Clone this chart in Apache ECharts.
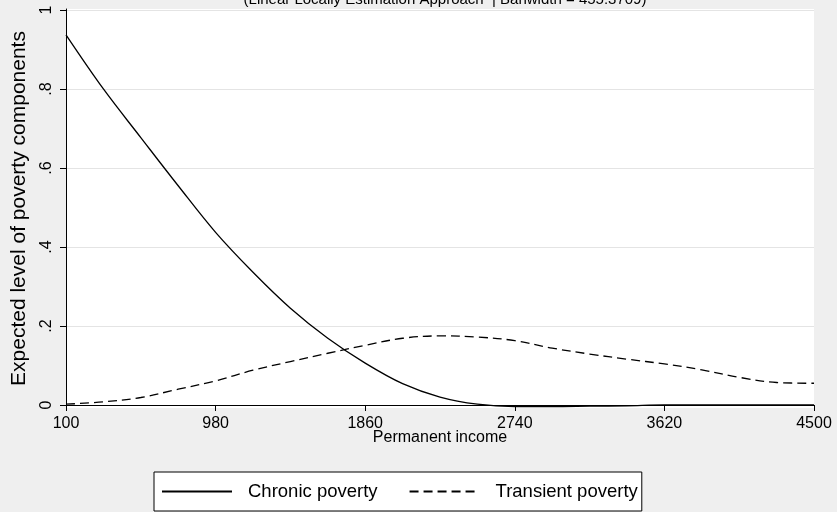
<!DOCTYPE html>
<html>
<head>
<meta charset="utf-8">
<script src="https://cdn.jsdelivr.net/npm/echarts@6/dist/echarts.min.js"></script>
<style>
  html, body { margin: 0; padding: 0; background: #efefef; }
  #chart { width: 837px; height: 512px; }
</style>
</head>
<body>
<div id="chart"></div>
<script>
// Permanent income grid and the two estimated poverty components
const income = [100, 320, 540, 760, 980, 1200, 1420, 1640, 1860, 2080, 2300,
                2520, 2740, 2960, 3180, 3400, 3620, 3840, 4060, 4280, 4500];
const chronic = [0.937, 0.800, 0.677, 0.555, 0.437, 0.336, 0.245, 0.169, 0.106, 0.054, 0.020,
                 0.002, -0.004, -0.004, -0.003, -0.002, 0.000, 0.000, 0.000, 0.000, 0.000];
const transient = [0.002, 0.008, 0.019, 0.040, 0.061, 0.088, 0.110, 0.131, 0.151, 0.169, 0.175,
                   0.172, 0.163, 0.144, 0.129, 0.116, 0.104, 0.089, 0.070, 0.057, 0.055];

// Axis ticks and their labels
const xTicks = [100, 980, 1860, 2740, 3620, 4500];
const yTicks = [0, 0.2, 0.4, 0.6, 0.8, 1];
const yTickLabels = ['0', '.2', '.4', '.6', '.8', '1'];

const font = '"Liberation Sans", Arial, Helvetica, sans-serif';
const pairs = (ys) => income.map((x, i) => [x, ys[i]]);

const chart = echarts.init(document.getElementById('chart'));
chart.setOption({
  backgroundColor: '#efefef',
  animation: false,
  textStyle: { fontFamily: font, color: '#000' },
  title: {
    text: '(Linear Locally Estimation Approach  | Banwidth = 455.3709)',
    left: 440,
    top: -13,
    textAlign: 'center',
    textStyle: { fontFamily: font, fontSize: 15, fontWeight: 'normal', color: '#000' }
  },
  grid: {
    left: 66, right: 23, top: 9, bottom: 104,
    outerBoundsMode: 'none',
    containLabel: false,
    show: true, backgroundColor: '#fff', borderWidth: 0
  },
  xAxis: {
    type: 'value',
    min: 100,
    max: 4500,
    name: 'Permanent income',
    nameLocation: 'middle',
    nameGap: 22,
    nameMoveOverlap: false,
    nameTextStyle: { fontFamily: font, fontSize: 16, color: '#000' },
    axisLine: { show: true, lineStyle: { color: '#000', width: 1 } },
    axisTick: { show: true, length: 6, customValues: xTicks, lineStyle: { color: '#000' } },
    axisLabel: {
      customValues: xTicks, fontSize: 16, color: '#000', margin: 8, fontFamily: font,
      formatter: (v) => String(v)
    },
    splitLine: { show: false }
  },
  yAxis: {
    type: 'value',
    min: -0.0076,
    max: 1.0025,
    name: 'Expected level of poverty components',
    nameLocation: 'middle',
    nameGap: 36,
    nameMoveOverlap: false,
    nameTextStyle: { fontFamily: font, fontSize: 21, color: '#000' },
    axisLine: { show: true, lineStyle: { color: '#000', width: 1 } },
    axisTick: { show: true, length: 6, customValues: yTicks, lineStyle: { color: '#000' } },
    axisLabel: {
      customValues: yTicks,
      rotate: 90,
      fontSize: 16,
      color: '#000',
      margin: 11,
      fontFamily: font,
      formatter: (v) => {
        const i = yTicks.findIndex((t) => Math.abs(t - v) < 1e-9);
        return i >= 0 ? yTickLabels[i] : '';
      }
    },
    splitLine: { show: true, lineStyle: { color: '#e4e4e4', width: 1 } }
  },
  legend: {
    data: ['Chronic poverty', 'Transient poverty'],
    left: 154,
    top: 472,
    orient: 'horizontal',
    itemWidth: 70,
    itemHeight: 4,
    itemGap: 31,
    padding: [10, 4, 10, 7],
    backgroundColor: '#fff',
    borderColor: '#000',
    borderWidth: 1,
    borderRadius: 0,
    itemStyle: { color: 'rgba(0,0,0,0)', borderWidth: 0 },
    textStyle: { fontFamily: font, fontSize: 18.5, color: '#000', padding: [0, 0, 0, 11] }
  },
  series: [
    {
      name: 'Chronic poverty',
      type: 'line',
      data: pairs(chronic),
      smooth: 0.35,
      symbol: 'none',
      lineStyle: { color: '#000', width: 1.3 },
      itemStyle: { color: '#000' }
    },
    {
      name: 'Transient poverty',
      type: 'line',
      data: pairs(transient),
      smooth: 0.35,
      symbol: 'none',
      lineStyle: { color: '#000', width: 1.3, type: [9, 5] },
      itemStyle: { color: '#000' }
    }
  ]
});
</script>
</body>
</html>
